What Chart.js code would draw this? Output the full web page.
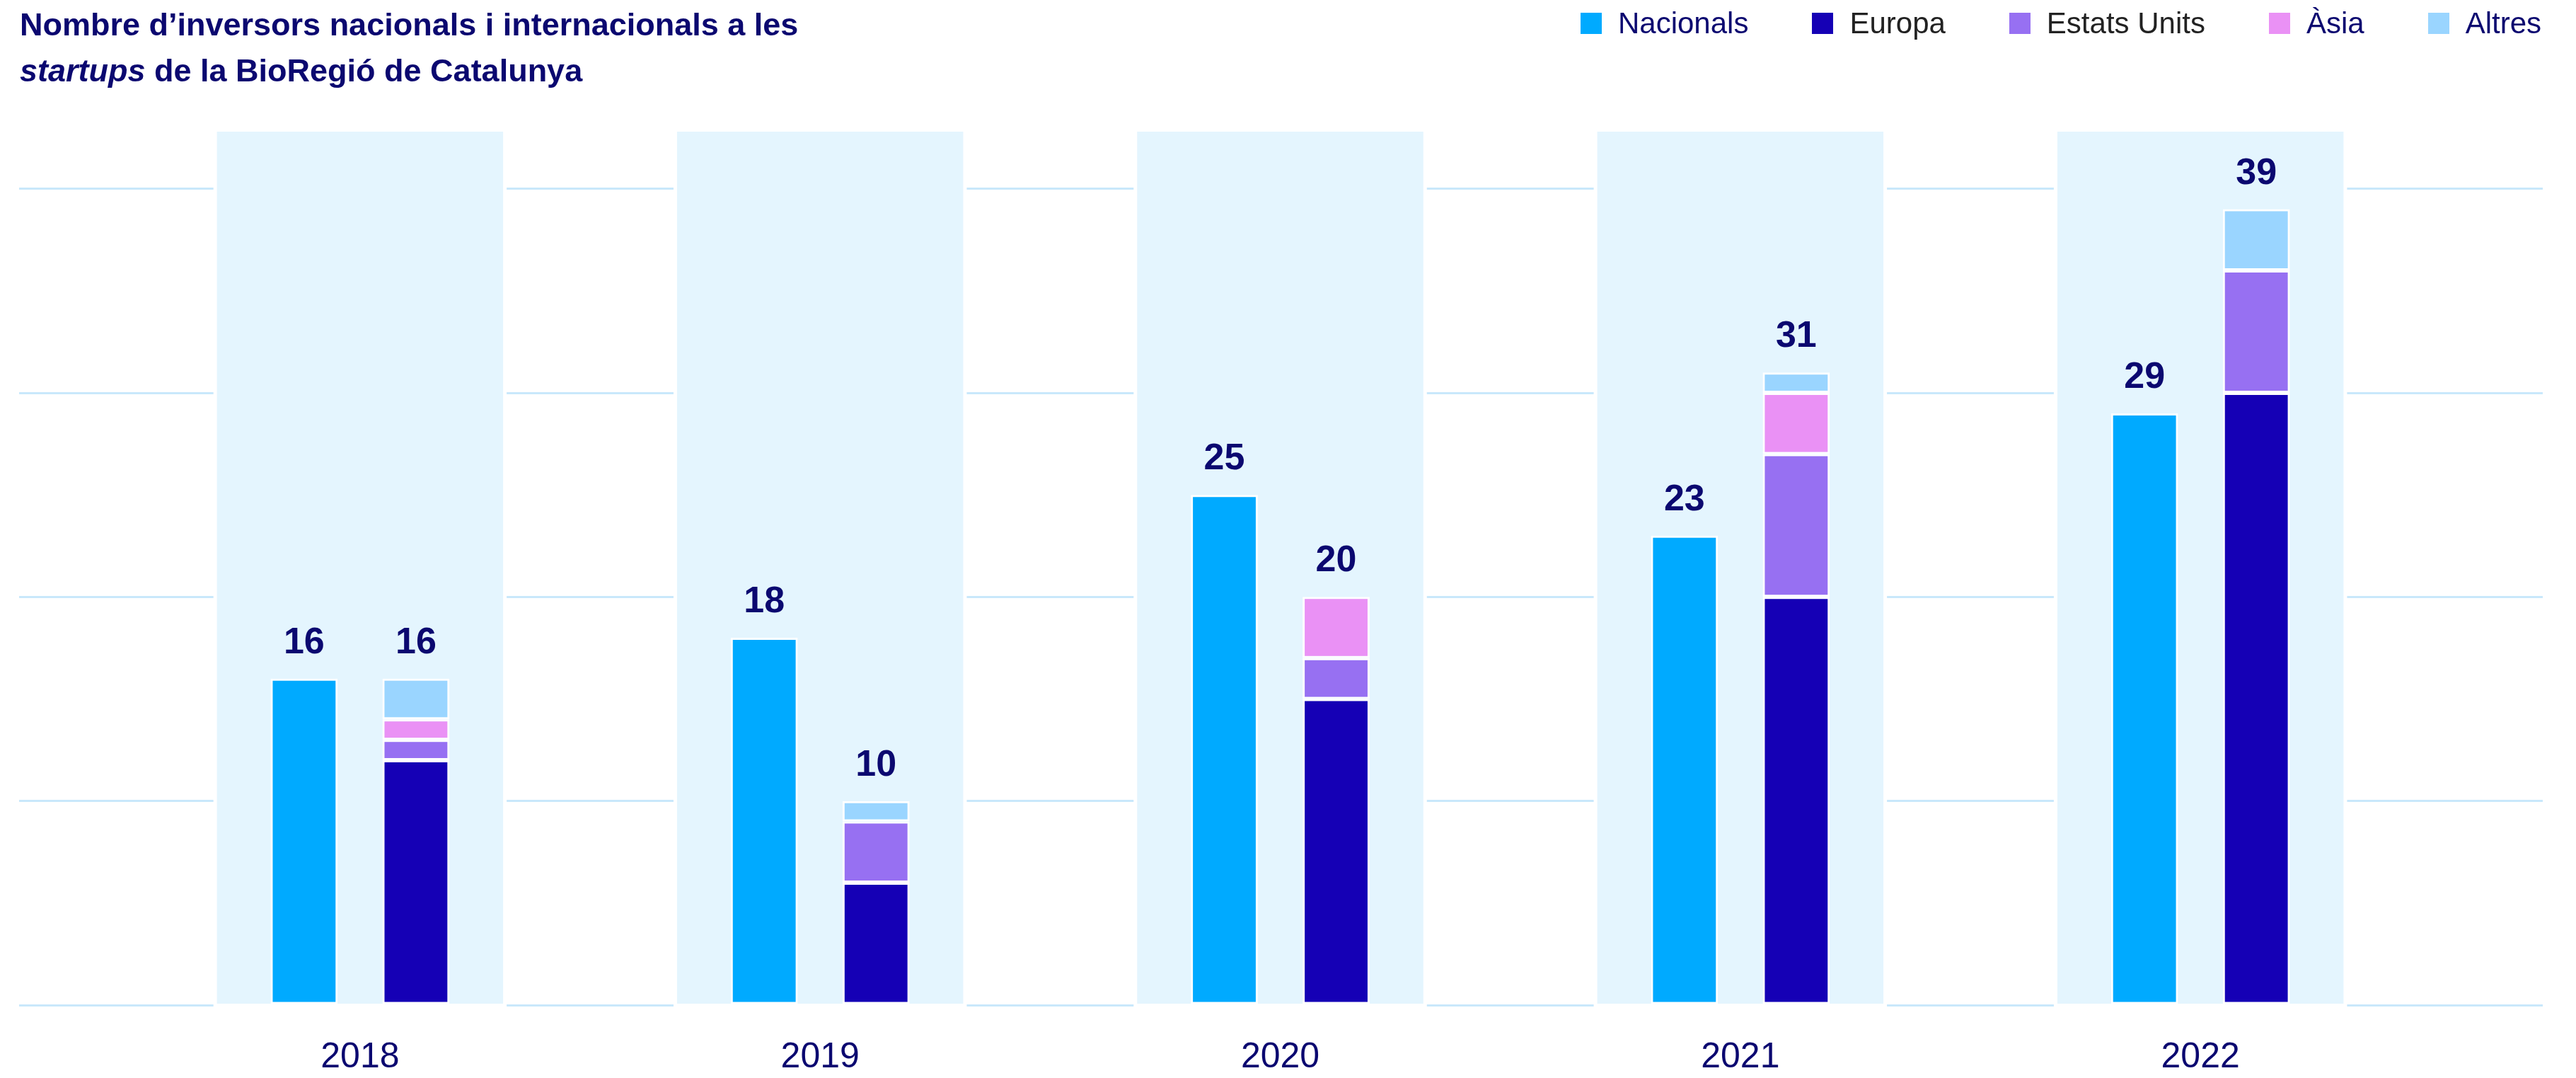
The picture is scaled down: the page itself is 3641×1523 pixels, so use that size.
<!DOCTYPE html>
<html lang="ca">
<head>
<meta charset="utf-8">
<title>Inversors a les startups de la BioRegió</title>
<script src="https://cdn.jsdelivr.net/npm/chart.js@4.4.1/dist/chart.umd.min.js"></script>
<style>
  html, body { margin: 0; padding: 0; background: #fff; }
  body {
    width: 3641px; height: 1523px; position: relative; overflow: hidden;
    font-family: 'Liberation Sans', Arial, sans-serif;
  }
  .chart-wrap { position: absolute; left: 0; top: 0; width: 3641px; height: 1523px; }
  .title {
    position: absolute; left: 28px; top: 2px; margin: 0;
    font-size: 45px; line-height: 65px; font-weight: 700; color: #0b0870;
  }
  .legend {
    position: absolute; right: 49px; top: 10px; margin: 0; padding: 0;
    list-style: none; display: flex; gap: 90px;
    font-size: 42px; line-height: 46px;
  }
  .legend li { display: flex; align-items: center; }
  .legend .box { width: 30px; height: 30px; margin-right: 23px; }
</style>
</head>
<body>
<div class="chart-wrap"><canvas id="barChart"></canvas></div>
<h1 class="title">Nombre d’inversors nacionals i internacionals a les<br><em>startups</em> de la BioRegió de Catalunya</h1>
<ul class="legend" id="legend"></ul>

<script>
// Data
const years = [2018, 2019, 2020, 2021, 2022];
const nacionals = [16, 18, 25, 23, 29];
const europa = [12, 6, 15, 20, 30];
const estatsUnits = [1, 3, 2, 7, 6];
const asia = [1, 0, 3, 3, 0];
const altres = [2, 1, 0, 1, 3];

const seriesNames = ['Nacionals', 'Europa', 'Estats Units', 'Àsia', 'Altres'];
const seriesColors = ['#00aaff', '#1500b5', '#9770f2', '#ea91f5', '#9ad5ff'];
const legendTextColors = ['#0b0870', '#222222', '#222222', '#0b0870', '#0b0870'];

const navy = '#0b0870';
const fontFamily = "'Liberation Sans', Arial, sans-serif";

Chart.defaults.font.family = fontFamily;
Chart.defaults.color = navy;

// HTML legend (title row)
const legendEl = document.getElementById('legend');
seriesNames.forEach((name, i) => {
    const li = document.createElement('li');
    const box = document.createElement('span');
    box.className = 'box';
    box.style.background = seriesColors[i];
    const txt = document.createElement('span');
    txt.textContent = name;
    txt.style.color = legendTextColors[i];
    li.appendChild(box);
    li.appendChild(txt);
    legendEl.appendChild(li);
});

// Light blue column behind each year
const panelPlugin = {
    id: 'panels',
    beforeDatasetsDraw(chart) {
        const { ctx, chartArea, scales: { x } } = chart;
        const step = x.getPixelForValue(years[1]) - x.getPixelForValue(years[0]);
        const half = step * 0.311;
        const top = chartArea.top;
        const h = chartArea.bottom - 2 - top;
        ctx.save();
        ctx.strokeStyle = '#ffffff';
        ctx.lineWidth = 10;
        ctx.fillStyle = '#e4f5fe';
        years.forEach(yr => {
            const cx = x.getPixelForValue(yr);
            ctx.strokeRect(cx - half, top, half * 2, h);
            ctx.fillRect(cx - half, top, half * 2, h);
        });
        ctx.restore();
    }
};

// Totals above each stack
const totalsPlugin = {
    id: 'totals',
    afterDatasetsDraw(chart) {
        const { ctx, scales: { y } } = chart;
        const nacMeta = chart.getDatasetMeta(0);
        const intMeta = chart.getDatasetMeta(1);
        ctx.save();
        ctx.font = 'bold 52px ' + fontFamily;
        ctx.fillStyle = navy;
        ctx.textAlign = 'center';
        ctx.textBaseline = 'alphabetic';
        years.forEach((yr, i) => {
            ctx.fillText(String(nacionals[i]), nacMeta.data[i].x, y.getPixelForValue(nacionals[i]) - 36);
            const total = europa[i] + estatsUnits[i] + asia[i] + altres[i];
            ctx.fillText(String(total), intMeta.data[i].x, y.getPixelForValue(total) - 36);
        });
        ctx.restore();
    }
};

const seriesData = [nacionals, europa, estatsUnits, asia, altres];
const stacks = ['nac', 'int', 'int', 'int', 'int'];

const barCtx = document.getElementById('barChart').getContext('2d');
const barChart = new Chart(barCtx, {
    type: 'bar',
    data: {
        labels: years,
        datasets: seriesNames.map((name, i) => ({
            label: name,
            data: seriesData[i].map(v => (v === 0 ? null : v)),
            stack: stacks[i],
            backgroundColor: seriesColors[i]
        }))
    },
    options: {
        responsive: true,
        maintainAspectRatio: false,
        animation: false,
        layout: { padding: { left: 27, right: 47, top: 186, bottom: 0 } },
        datasets: {
            bar: {
                categoryPercentage: 0.486,
                barPercentage: 0.6,
                borderColor: '#ffffff',
                borderWidth: 3,
                borderSkipped: false
            }
        },
        plugins: {
            legend: { display: false },
            tooltip: { enabled: false }
        },
        scales: {
            x: {
                type: 'linear',
                offset: false,
                stacked: true,
                min: 2017.259,
                max: 2022.744,
                grid: { display: false, drawTicks: false, offset: false },
                border: { display: false },
                afterBuildTicks: scale => {
                    scale.ticks = years.map(v => ({ value: v }));
                },
                afterFit: scale => {
                    scale.height = 103;
                },
                ticks: {
                    callback: v => String(v),
                    padding: 44,
                    color: navy,
                    font: { size: 50 },
                    maxRotation: 0,
                    autoSkip: false
                }
            },
            y: {
                stacked: true,
                min: 0,
                max: 42.8,
                grid: {
                    color: c => (c.tick && c.tick.value % 10 === 0 ? '#c9e8fb' : 'rgba(0,0,0,0)'),
                    lineWidth: 3,
                    drawTicks: false
                },
                border: { display: false },
                ticks: { display: false, stepSize: 10 }
            }
        }
    },
    plugins: [panelPlugin, totalsPlugin]
});
</script>
</body>
</html>
